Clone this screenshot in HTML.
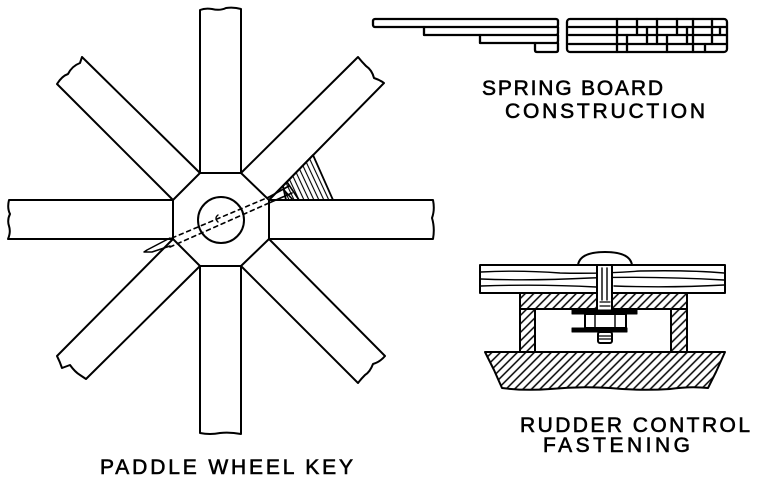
<!DOCTYPE html>
<html><head><meta charset="utf-8"><style>
html,body{margin:0;padding:0;background:#fff;}
svg{display:block;}
text{font-family:"Liberation Sans",sans-serif;font-size:21px;fill:#000;stroke:#000;stroke-width:0.6;}
</style></head><body>
<svg width="758" height="479" viewBox="0 0 758 479" xmlns="http://www.w3.org/2000/svg">
<defs>
<pattern id="h1" width="6" height="6" patternUnits="userSpaceOnUse" patternTransform="rotate(45)">
<line x1="3" y1="0" x2="3" y2="6" stroke="#000" stroke-width="1.5"/>
</pattern>
<pattern id="h2" width="4.5" height="6" patternUnits="userSpaceOnUse" patternTransform="rotate(-25)">
<line x1="2" y1="0" x2="2" y2="6" stroke="#000" stroke-width="1.1"/>
</pattern>
</defs>
<g fill="none" stroke="#000" stroke-width="2" stroke-linejoin="round" stroke-linecap="round">
<!-- PADDLE WHEEL -->
<polygon points="200,173 241,173 269,200 269,239 241,266 200,266 173,239 173,200" fill="#fff"/>
<path d="M200,173 L200,10 Q205,8 212,9 Q220,11 226,8 Q234,7 241,9 L241,173"/>
<path d="M200,266 L200,433 Q210,435 220,433 Q230,432 241,434 L241,266"/>
<path d="M173,200 L9,200 Q7,208 10,214 Q7,220 9,226 Q11,232 8,239 L173,239"/>
<path d="M269,200 L433,200 Q435,210 432,218 Q435,228 433,239 L269,239"/>
<path d="M173,200 L57,84 Q62,76 68,74 Q72,66 80,63 L82,57 L200,173"/>
<path d="M241,173 L358,57 Q362,62 366,66 Q372,70 374,78 Q380,80 384,83 L269,200"/>
<path d="M173,239 L57,356 Q60,362 62,368 L70,365 Q75,372 80,375 L86,379 L200,266"/>
<path d="M269,239 L385,356 Q380,362 373,364 Q370,372 365,375 Q361,379 358,383 L241,266"/>
<circle cx="221" cy="220" r="23"/>
<polygon points="313,155 333,200 286,200 283,186" fill="url(#h2)" stroke-width="1.8"/>
<path d="M269,197 L289,186 M269,203 L292,193 M287,182 L299,200 M284,190 L293,200" stroke-width="1.6"/>
<path d="M172,238 L269,197 M170,247 L269,203" stroke-dasharray="4,4" stroke-width="1.6"/>
<path d="M170,238 L147,250 L144,252 L152,252 L170,246" stroke-width="1.5"/>
<path d="M218,215 Q214,218 218,222" stroke-width="1.4"/>

<!-- SPRING BOARD left -->
<g stroke-width="2.3">
<rect x="373" y="19" width="185" height="8" rx="2"/>
<path d="M424,27 L424,35 L556,35 Q558,35 558,33 L558,27"/>
<path d="M480,35 L480,43 L556,43 Q558,43 558,41 L558,35"/>
<path d="M535,43 L535,50 Q535,52 537,52 L556,52 Q558,52 558,50 L558,43"/>
<rect x="567" y="19" width="160" height="33" rx="3"/>
<path d="M569,27 L726,27 M569,35 L726,35 M569,44 L726,44"/>
<path d="M617,19 L617,52 M637,19 L637,35 M657,19 L657,44 M677,19 L677,35 M693,19 L693,52 M712,19 L712,44 M627,35 L627,52 M647,27 L647,44 M667,35 L667,52 M687,27 L687,44 M705,44 L705,52 M720,27 L720,35"/>
</g>

<!-- RUDDER CONTROL -->
<path d="M578,265 Q580,252 605,252 Q630,252 632,265" fill="#fff"/>
<rect x="480" y="265" width="245" height="28" fill="#fff"/>
<path d="M481,272 Q520,270 560,273 Q600,274 640,271 Q690,270 724,273 M481,279 Q530,281 590,278 Q650,276 724,280 M481,286 Q540,284 596,287 M614,286 Q670,288 724,285" stroke-width="1.4"/>
<rect x="520" y="293" width="167" height="16" fill="url(#h1)"/>
<rect x="520" y="309" width="15" height="43" fill="url(#h1)"/>
<rect x="671" y="309" width="16" height="43" fill="url(#h1)"/>
<rect x="597" y="265" width="15" height="46" fill="#fff"/>
<path d="M602,268 L602,300 M607,268 L607,300" stroke-width="1.4"/>
<path d="M600,302 L610,302 M600,306 L610,306" stroke-width="1.2"/>
<rect x="572" y="310" width="65" height="4" fill="#000" stroke-width="1"/>
<rect x="585" y="314" width="41" height="14" fill="#fff"/>
<path d="M595,314 L595,328 M615,314 L615,328" stroke-width="1.4"/>
<rect x="572" y="328" width="55" height="4" fill="#000" stroke-width="1"/>
<rect x="598" y="332" width="14" height="11" fill="#fff" rx="2"/>
<path d="M599,336 L611,336 M599,339 L611,339" stroke-width="1.2"/>
<path d="M485,352 L725,352 L716,372 L708,388 Q690,386 670,389 Q640,391 610,388 Q580,386 550,389 Q525,391 502,388 L494,370 Z" fill="url(#h1)"/>
</g>

<text x="482" y="95" textLength="181" lengthAdjust="spacing">SPRING BOARD</text>
<text x="505" y="118" textLength="200" lengthAdjust="spacing">CONSTRUCTION</text>
<text x="520" y="432" textLength="230" lengthAdjust="spacing">RUDDER CONTROL</text>
<text x="543" y="452" textLength="147" lengthAdjust="spacing">FASTENING</text>
<text x="100" y="474" textLength="253" lengthAdjust="spacing">PADDLE WHEEL KEY</text>
</svg>
</body></html>
